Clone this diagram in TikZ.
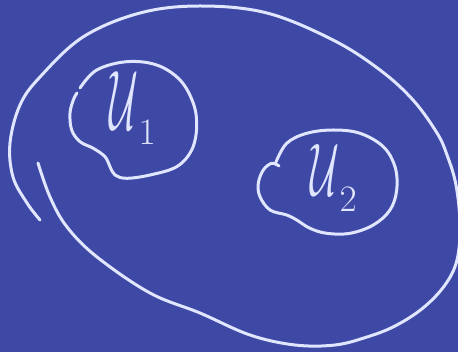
\documentclass[tikz,border=0pt]{standalone}
\usepackage{amsmath}
\usepackage{graphicx}
\definecolor{board}{RGB}{62,72,165}
\definecolor{chalk}{RGB}{225,230,255}
\tikzset{
  chalkline/.style={draw=chalk, line width=3pt, line cap=round, line join=round},
  chalktext/.style={text=chalk, inner sep=0pt, font=\Huge}
}
\begin{document}
\begin{tikzpicture}[x=1pt,y=-1pt]
\fill[board] (0,0) rectangle (458,352);
\useasboundingbox (0,0) rectangle (458,352);
% outer set
\draw[chalkline] plot[smooth, tension=0.6] coordinates {
 (38,163) (50,197) (67,227) (97,257) (150,293) (200,313) (250,335)
 (295,345) (335,345) (367,337) (395,326) (423,308) (445,285) (457,260)
 (460,225) (456,185) (447,155) (437,133) (413,100) (380,70) (333,40)
 (267,13) (200,6) (140,13) (83,37) (40,77) (20,105) (10,143) (13,177)
 (27,203) (40,220)};
% U1 blob
\draw[chalkline] plot[smooth, tension=0.6] coordinates {
 (80,88) (96.7,70) (126.7,61.7) (156.7,65) (180,80) (193.3,103.3)
 (196.7,126.7) (191.7,150) (176.7,166.7) (150,175) (126.7,178.3)
 (115,175) (110,166.7) (105,156.7) (93.3,148.3) (80,141.7) (71.7,130)
 (70,113.3) (73.3,100) (77,93)};
% U2 blob
\draw[chalkline] plot[smooth, tension=0.6] coordinates {
 (276,162) (286.7,143.3) (306.7,133.3) (333.3,130) (360,133.3) (383.3,146.7)
 (395,166.7) (396.7,190) (390,210) (373.3,225) (350,233.3) (326.7,233.3)
 (310,228.3) (296.7,220) (286.7,215) (270,210) (260,196.7) (258.3,183.3)
 (263.3,170) (271.7,163.3) (279,166)};
% labels
\node[chalktext] (u1) at (133,108) {$\scalebox{1.6}[3.4]{$\mathcal{U}$}_{\scalebox{1.5}{$1$}}$};
\node[chalktext] (u2) at (334,178) {$\scalebox{1.6}[3.0]{$\mathcal{U}$}_{\scalebox{1.5}{$2$}}$};
\end{tikzpicture}
\end{document}
